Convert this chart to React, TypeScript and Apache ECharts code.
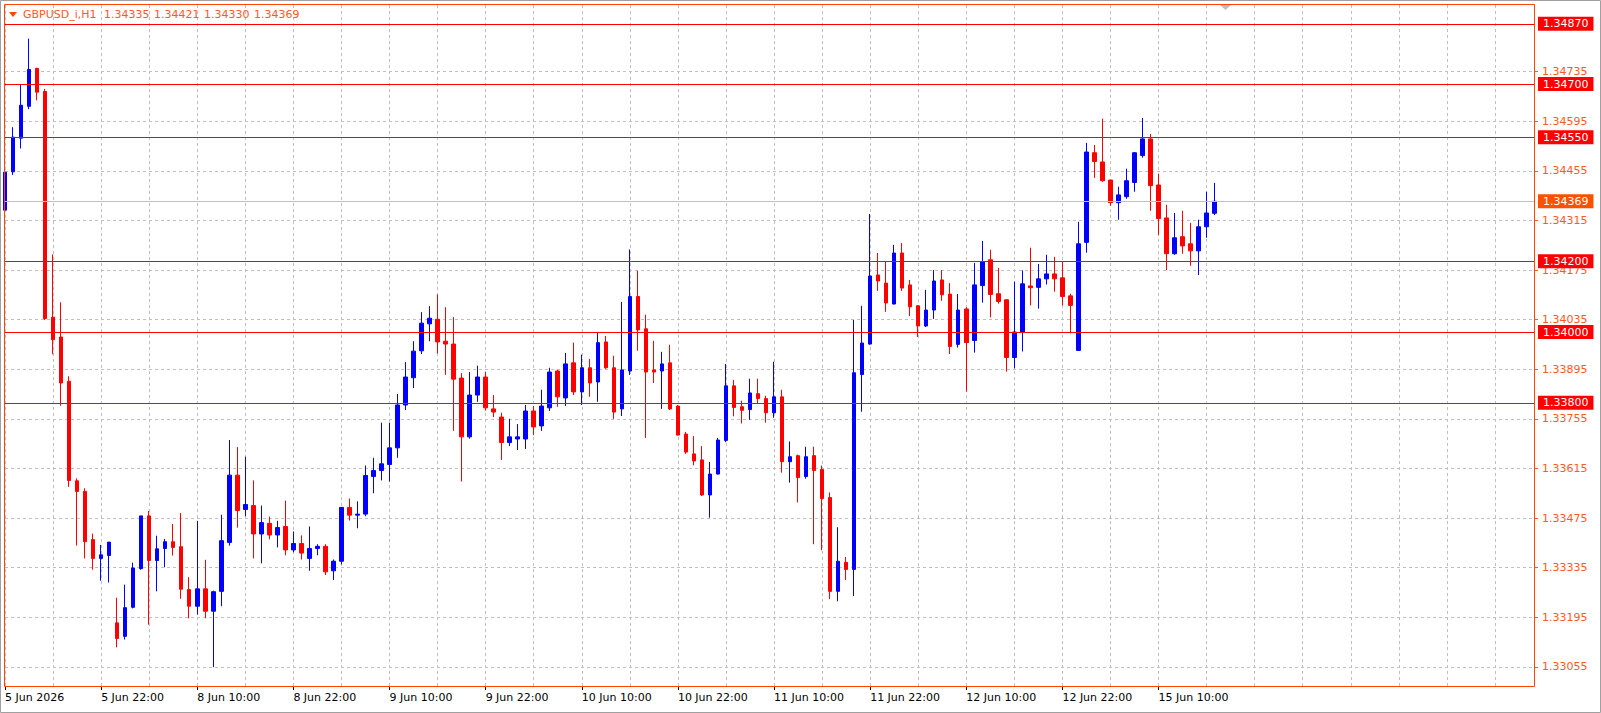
import { useEffect, useRef } from 'react';
import * as echarts from 'echarts';

const symbolName = 'GBPUSD_i,H1';

const opens = [
  1.34344, 1.34452, 1.34547, 1.34637, 1.34744, 1.34679, 1.34042, 1.33986, 1.33861, 1.3358,
  1.3355, 1.33414, 1.33361, 1.33369, 1.33179, 1.33141, 1.33223, 1.33332, 1.33481, 1.33355,
  1.33389, 1.33408, 1.33394, 1.33273, 1.33226, 1.33275, 1.33212, 1.33268, 1.33406, 1.33596,
  1.33499, 1.3351, 1.3343, 1.3346, 1.33427, 1.33451, 1.33385, 1.33403, 1.33361, 1.33389,
  1.33395, 1.33326, 1.33353, 1.33505, 1.33483, 1.33486, 1.33592, 1.33609, 1.33626, 1.33673,
  1.33794, 1.33871, 1.33947, 1.34023, 1.34036, 1.33974, 1.33966, 1.3387, 1.33704, 1.33822,
  1.33873, 1.33783, 1.3376, 1.33688, 1.33698, 1.33698, 1.33777, 1.33735, 1.33786, 1.3389,
  1.33814, 1.33913, 1.33831, 1.33899, 1.33859, 1.33972, 1.33899, 1.33783, 1.3389, 1.341,
  1.34009, 1.33893, 1.3389, 1.33913, 1.33791, 1.33712, 1.33656, 1.33639, 1.3354, 1.33599,
  1.33694, 1.33848, 1.33789, 1.33781, 1.33826, 1.33812, 1.33772, 1.33817, 1.33634, 1.33651,
  1.33592, 1.33651, 1.33612, 1.33533, 1.33268, 1.3335, 1.3333, 1.3388, 1.33966, 1.34161,
  1.34138, 1.34079, 1.34223, 1.34133, 1.34074, 1.34017, 1.34062, 1.34147, 1.34107, 1.33965,
  1.34065, 1.33976, 1.34131, 1.34204, 1.34108, 1.34091, 1.33928, 1.33999, 1.3413, 1.34126,
  1.3415, 1.34164, 1.34153, 1.34102, 1.33948, 1.34253, 1.34506, 1.3448, 1.34429, 1.34365,
  1.34382, 1.34422, 1.34498, 1.34545, 1.34415, 1.34322, 1.34221, 1.34269, 1.34249, 1.34229,
  1.34297, 1.34335,
];

const closes = [
  1.34451, 1.3455, 1.3464, 1.34741, 1.34677, 1.34038, 1.33978, 1.33856, 1.33581, 1.3355,
  1.33408, 1.33361, 1.33371, 1.33407, 1.33135, 1.33222, 1.33334, 1.33481, 1.33355, 1.33388,
  1.33408, 1.33392, 1.33274, 1.33226, 1.33275, 1.33212, 1.33267, 1.33411, 1.33596, 1.33496,
  1.33513, 1.3343, 1.33462, 1.33427, 1.33448, 1.33385, 1.33403, 1.33376, 1.33389, 1.33395,
  1.33323, 1.33353, 1.33505, 1.33483, 1.33486, 1.33595, 1.33609, 1.33628, 1.33673, 1.33794,
  1.33873, 1.33946, 1.34025, 1.34039, 1.33972, 1.33966, 1.33867, 1.33704, 1.33822, 1.33873,
  1.33786, 1.33774, 1.33688, 1.33704, 1.33704, 1.33777, 1.33732, 1.33791, 1.33887, 1.33817,
  1.3391, 1.33831, 1.33899, 1.33856, 1.3397, 1.33899, 1.33774, 1.33893, 1.341, 1.34006,
  1.33887, 1.33887, 1.3391, 1.33783, 1.33709, 1.33661, 1.33636, 1.3354, 1.33599, 1.33695,
  1.33848, 1.33787, 1.33779, 1.33828, 1.33812, 1.33772, 1.33817, 1.33634, 1.33648, 1.33589,
  1.33648, 1.33609, 1.3353, 1.33268, 1.33353, 1.3333, 1.33885, 1.33969, 1.34158, 1.34144,
  1.34082, 1.34223, 1.34124, 1.34071, 1.34017, 1.34062, 1.34144, 1.34105, 1.33959, 1.34062,
  1.3397, 1.34133, 1.34198, 1.34106, 1.34086, 1.33928, 1.34, 1.34136, 1.34125, 1.3415,
  1.34164, 1.3415, 1.341, 1.34075, 1.34249, 1.34508, 1.34481, 1.34427, 1.34365, 1.34387,
  1.34427, 1.34506, 1.34545, 1.34413, 1.3432, 1.34221, 1.34266, 1.34243, 1.34229, 1.34297,
  1.34336, 1.34369,
];

const lows = [
  1.34331, 1.34443, 1.34518, 1.34629, 1.34654, 1.34034, 1.33937, 1.33792, 1.33563, 1.33397,
  1.33361, 1.33329, 1.33298, 1.33293, 1.3311, 1.33132, 1.3322, 1.33329, 1.33174, 1.33268,
  1.33336, 1.33369, 1.33247, 1.33192, 1.33202, 1.33192, 1.33054, 1.33226, 1.33397, 1.33448,
  1.3348, 1.33361, 1.33347, 1.33415, 1.33392, 1.3337, 1.33378, 1.33358, 1.33326, 1.3337,
  1.33314, 1.333, 1.33344, 1.33468, 1.33446, 1.3348, 1.33545, 1.33581, 1.33578, 1.33645,
  1.3378, 1.33842, 1.33938, 1.33974, 1.33939, 1.33879, 1.33721, 1.33578, 1.33699, 1.33803,
  1.33778, 1.3376, 1.33639, 1.33678, 1.33667, 1.3367, 1.33709, 1.33721, 1.33777, 1.33789,
  1.33791, 1.33822, 1.33794, 1.33817, 1.33803, 1.33896, 1.33755, 1.33763, 1.33879, 1.33947,
  1.33701, 1.33856, 1.33783, 1.3378, 1.33708, 1.33656, 1.33624, 1.33537, 1.33476, 1.33598,
  1.33689, 1.33762, 1.33742, 1.33752, 1.33798, 1.33744, 1.33758, 1.33603, 1.33575, 1.33519,
  1.33586, 1.33401, 1.33384, 1.33246, 1.3324, 1.333, 1.33255, 1.33775, 1.33964, 1.34116,
  1.34057, 1.34078, 1.34116, 1.34045, 1.33986, 1.34014, 1.34037, 1.34088, 1.33938, 1.33956,
  1.33832, 1.33942, 1.34083, 1.34041, 1.3408, 1.33888, 1.33897, 1.33945, 1.34075, 1.34066,
  1.34134, 1.34114, 1.34075, 1.33996, 1.33947, 1.34224, 1.34435, 1.34424, 1.34356, 1.34317,
  1.34376, 1.34396, 1.34492, 1.34342, 1.34274, 1.34175, 1.34218, 1.34221, 1.34187, 1.34161,
  1.34266, 1.3433,
];

const highs = [
  1.34484, 1.34578, 1.34697, 1.34828, 1.34746, 1.34686, 1.34219, 1.34084, 1.33875, 1.33587,
  1.33559, 1.33431, 1.33399, 1.33407, 1.3325, 1.33287, 1.33349, 1.33481, 1.33495, 1.33425,
  1.33416, 1.33458, 1.33489, 1.33308, 1.33467, 1.33357, 1.3327, 1.33484, 1.33695, 1.33675,
  1.33648, 1.33581, 1.3351, 1.33479, 1.33467, 1.33524, 1.33437, 1.33426, 1.33451, 1.33401,
  1.33401, 1.33358, 1.33505, 1.3353, 1.33522, 1.33623, 1.33645, 1.33744, 1.33744, 1.33825,
  1.33915, 1.33974, 1.34056, 1.34073, 1.34106, 1.3407, 1.34042, 1.33884, 1.33887, 1.33905,
  1.33887, 1.33822, 1.33772, 1.33755, 1.3374, 1.33794, 1.33791, 1.33837, 1.33899, 1.33893,
  1.33941, 1.3397, 1.33936, 1.33924, 1.33998, 1.33989, 1.33933, 1.34085, 1.34233, 1.34173,
  1.34049, 1.33975, 1.33944, 1.33964, 1.33794, 1.33718, 1.33706, 1.33678, 1.33633, 1.33701,
  1.3391, 1.33865, 1.33806, 1.33868, 1.33868, 1.3382, 1.33916, 1.33837, 1.33691, 1.33654,
  1.33676, 1.33676, 1.33623, 1.33547, 1.33449, 1.33365, 1.34034, 1.34074, 1.34333, 1.34223,
  1.342, 1.34246, 1.34251, 1.34147, 1.34076, 1.34119, 1.34175, 1.34175, 1.34138, 1.34107,
  1.3407, 1.34195, 1.34257, 1.34232, 1.34181, 1.34092, 1.34142, 1.34174, 1.34238, 1.34192,
  1.34218, 1.34212, 1.34198, 1.34108, 1.34311, 1.34534, 1.34528, 1.34602, 1.34429, 1.3441,
  1.34461, 1.34508, 1.34604, 1.34559, 1.34446, 1.34359, 1.34336, 1.34342, 1.34308, 1.34317,
  1.34396, 1.34421,
];

const xTickLabels = [
  '5 Jun 2026', '5 Jun 22:00', '8 Jun 10:00', '8 Jun 22:00', '9 Jun 10:00', '9 Jun 22:00',
  '10 Jun 10:00', '10 Jun 22:00', '11 Jun 10:00', '11 Jun 22:00', '12 Jun 10:00', '12 Jun 22:00',
  '15 Jun 10:00',
];

const yTickValues = [
  1.33055, 1.33195, 1.33335, 1.33475, 1.33615, 1.33755, 1.33895, 1.34035, 1.34175, 1.34315,
  1.34455, 1.34595, 1.34735,
];

const levelLines = [1.3487, 1.347, 1.3455, 1.342, 1.34, 1.338];

const Y_MIN = 1.32998;
const Y_MAX = 1.34923;
const SLOT_COUNT = 192;
const BARS_PER_LABEL = 12;
const BARS_PER_GRID = 6;

const FONT = '"DejaVu Sans", Tahoma, sans-serif';
const BULL = '#0000FF';
const BEAR = '#FF0000';
const FRAME = '#FF4500';
const TEXT_ORANGE = '#FF5A1E';
const GRID_GRAY = '#C0C0C0';

export default function App() {
  const ref = useRef<HTMLDivElement>(null);

  useEffect(() => {
    document.body.style.margin = '0';
    if (!ref.current) return;
    const chart = echarts.init(ref.current, null, { renderer: 'svg' });

    const categories = Array.from({ length: SLOT_COUNT }, (_, i) => String(i));
    const candles = opens.map((o, i) => [o, closes[i], lows[i], highs[i]]);
    const last = opens.length - 1;
    const current = closes[last];

    const isLabelIdx = (i: number) =>
      i % BARS_PER_LABEL === 0 && i / BARS_PER_LABEL < xTickLabels.length;

    const boxLabel = (v: number, bg: string) => ({
      show: true,
      position: 'end',
      distance: 3,
      formatter: () => v.toFixed(5),
      color: '#FFFFFF',
      backgroundColor: bg,
      padding: [2, 5, 1, 5],
      fontSize: 11,
      lineHeight: 11,
      fontFamily: FONT,
    });

    const levelData: any[] = [
      {
        yAxis: current,
        lineStyle: { color: GRID_GRAY, width: 1, type: 'solid' },
        label: boxLabel(current, '#FF5000'),
      },
      ...levelLines.map((v) => ({
        yAxis: v,
        lineStyle: { color: '#FF0000', width: 1, type: 'solid' },
        label: boxLabel(v, '#FF0000'),
      })),
    ];

    const headerValues = [opens[last], highs[last], lows[last], closes[last]];
    const headerX = [104, 154, 204, 254];

    const option: any = {
      animation: false,
      backgroundColor: '#FFFFFF',
      grid: { left: 5, right: 66, top: 5, bottom: 26, show: false },
      xAxis: {
        type: 'category',
        data: categories,
        boundaryGap: false,
        axisLine: { show: false },
        axisTick: {
          show: true,
          interval: (i: number) => isLabelIdx(i),
          length: 3,
          lineStyle: { color: '#000000', width: 1 },
        },
        axisLabel: {
          interval: (i: number) => isLabelIdx(i),
          formatter: (_v: string, i: number) =>
            isLabelIdx(i) ? xTickLabels[i / BARS_PER_LABEL] : '',
          align: 'left',
          color: '#000000',
          fontSize: 11,
          fontFamily: FONT,
          margin: 5,
        },
        splitLine: {
          show: true,
          interval: BARS_PER_GRID - 1,
          lineStyle: { color: GRID_GRAY, width: 1, type: [3, 3] },
        },
      },
      yAxis: {
        type: 'value',
        position: 'right',
        min: Y_MIN,
        max: Y_MAX,
        axisLine: { show: false },
        axisTick: {
          show: true,
          customValues: yTickValues,
          length: 3,
          lineStyle: { color: TEXT_ORANGE, width: 1 },
        },
        axisLabel: {
          customValues: yTickValues,
          formatter: (v: number) => v.toFixed(5),
          color: TEXT_ORANGE,
          fontSize: 11,
          fontFamily: FONT,
          margin: 7,
        },
        splitLine: {
          show: true,
          lineStyle: { color: GRID_GRAY, width: 1, type: [3, 3] },
        },
      },
      series: [
        {
          type: 'candlestick',
          data: candles,
          barWidth: 4,
          clip: true,
          itemStyle: {
            color: BULL,
            color0: BEAR,
            borderColor: BULL,
            borderColor0: BEAR,
            borderWidth: 1,
          },
          markLine: {
            silent: true,
            symbol: ['none', 'none'],
            precision: 5,
            animation: false,
            data: levelData,
          },
        },
      ],
      graphic: [
        {
          type: 'rect',
          z: 100,
          silent: true,
          shape: { x: 4.5, y: 4.5, width: 1530, height: 682 },
          style: { fill: 'none', stroke: FRAME, lineWidth: 1 },
        },
        {
          type: 'rect',
          z: 100,
          silent: true,
          shape: { x: 0.5, y: 0.5, width: 1600, height: 712 },
          style: { fill: 'none', stroke: '#A0A0A0', lineWidth: 1 },
        },
        {
          type: 'polygon',
          z: 100,
          silent: true,
          shape: { points: [[9, 12], [17, 12], [13, 17]] },
          style: { fill: FRAME },
        },
        {
          type: 'polygon',
          z: 100,
          silent: true,
          shape: { points: [[1220, 5], [1231, 5], [1225.5, 10]] },
          style: { fill: GRID_GRAY },
        },
        {
          type: 'text',
          z: 100,
          silent: true,
          x: 23,
          y: 14.5,
          style: {
            text: symbolName,
            fill: TEXT_ORANGE,
            fontSize: 11,
            fontFamily: FONT,
            verticalAlign: 'middle',
          },
        },
        ...headerValues.map((v, k) => ({
          type: 'text',
          z: 100,
          silent: true,
          x: headerX[k],
          y: 14.5,
          style: {
            text: v.toFixed(5),
            fill: TEXT_ORANGE,
            fontSize: 11,
            fontFamily: FONT,
            verticalAlign: 'middle',
          },
        })),
      ],
    };

    chart.setOption(option);
    return () => chart.dispose();
  }, []);

  return (
    <div
      ref={ref}
      style={{ position: 'absolute', left: 0, top: 0, width: 1601, height: 713 }}
    />
  );
}
